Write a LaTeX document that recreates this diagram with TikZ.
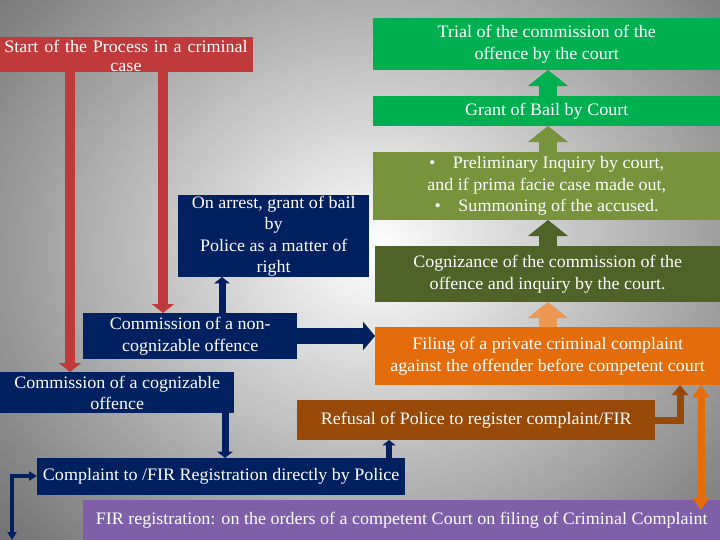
\documentclass[tikz,border=0pt]{standalone}
\usepackage{fontspec}
\setmainfont{Liberation Serif}[FakeStretch=1.03]
\usetikzlibrary{arrows.meta}
\definecolor{navy}{HTML}{002060}
\definecolor{grn}{HTML}{00B050}
\definecolor{olv}{HTML}{77933C}
\definecolor{dolv}{HTML}{4F6228}
\definecolor{org}{HTML}{E46C0A}
\definecolor{brn}{HTML}{984807}
\definecolor{purp}{HTML}{7F5FA8}
\definecolor{redb}{HTML}{C0393B}
\tikzset{
 box/.style={anchor=north west,inner sep=0pt,text=white,align=center,font=\fontsize{17.5}{21.5}\selectfont},
 thick arrow/.style={line width=#1,-{Triangle[width=2.2*#1,length=0.9*#1]}},
}
\begin{document}
\begin{tikzpicture}[x=1pt,y=-1pt]
\useasboundingbox (0,0) rectangle (720,540);
\shade[inner color=white,outer color=gray!85!black] (-150,-200) rectangle (900,700);
% boxes
\node[box,fill=redb,minimum width=253,minimum height=35] (start) at (0,37) {};
\node[box,anchor=center,text width=253pt] (starttext) at (126,56) {Start of the Process in a criminal\\[-2pt]case};
\node[box,fill=grn,minimum width=347,minimum height=52] (trial) at (373,18) {Trial of the commission of the\\offence by the court};
\node[box,fill=grn,minimum width=347,minimum height=30] (bail) at (373,96) {Grant of Bail by Court};
\node[box,fill=olv,minimum width=347,minimum height=68] (prelim) at (373,152) {\textbullet\quad Preliminary Inquiry by court,\\and if prima facie case made out,\\\textbullet\quad Summoning of the accused.};
\node[box,fill=dolv,minimum width=345,minimum height=56] (cogn) at (375,246) {Cognizance of the commission of the\\offence and inquiry by the court.};
\node[box,fill=org,minimum width=345,minimum height=58] (filing) at (375,327) {Filing of a private criminal complaint\\against the offender before competent court};
\node[box,fill=brn,minimum width=358,minimum height=40] (refusal) at (297,400) {Refusal of Police to register complaint/FIR};
\node[box,fill=purp,minimum width=637,minimum height=40] (fir) at (83,500) {FIR registration: on the orders of a competent Court on filing of Criminal Complaint};
\node[box,fill=navy,minimum width=368,minimum height=37] (compl) at (37,458) {Complaint to /FIR Registration directly by Police};
\node[box,fill=navy,minimum width=214,minimum height=46] (noncog) at (83,313) {Commission of a non-\\cognizable offence};
\node[box,fill=navy,minimum width=191,minimum height=82] (arrest) at (178,195) {On arrest, grant of bail\\by\\Police as a matter of\\right};
\node[box,fill=navy,minimum width=234,minimum height=41] (cog) at (0,372) {Commission of a cognizable\\offence};
% arrows
\draw[redb,thick arrow=10] (70,72) -- (70,372);
\draw[redb,thick arrow=10] (163,72) -- (163,313);
\draw[grn,thick arrow=18] (548,96) -- (548,70);
\draw[olv,thick arrow=18] (548,152) -- (548,126);
\draw[dolv,thick arrow=18] (548,246) -- (548,220);
\draw[org!70,thick arrow=18] (548,327) -- (548,302);
\draw[navy,thick arrow=7] (222,313) -- (222,277);
\draw[navy,line width=16,-{Triangle[width=28,length=12]}] (297,336) -- (375,336);
\draw[navy,thick arrow=7] (225,413) -- (225,458);
\draw[navy,thick arrow=6] (389,458) -- (389,440);
\draw[brn,line width=7,-{Triangle[width=16,length=10]}] (655,420) -| (680,385);
\draw[org,line width=7,{Triangle[width=16,length=12]}-{Triangle[width=16,length=12]}] (701,385) -- (701,510);
\draw[navy,line width=4,{Triangle[width=9,length=8]}-{Triangle[width=9,length=8]}] (12,540) |- (37,476);
\end{tikzpicture}
\end{document}
